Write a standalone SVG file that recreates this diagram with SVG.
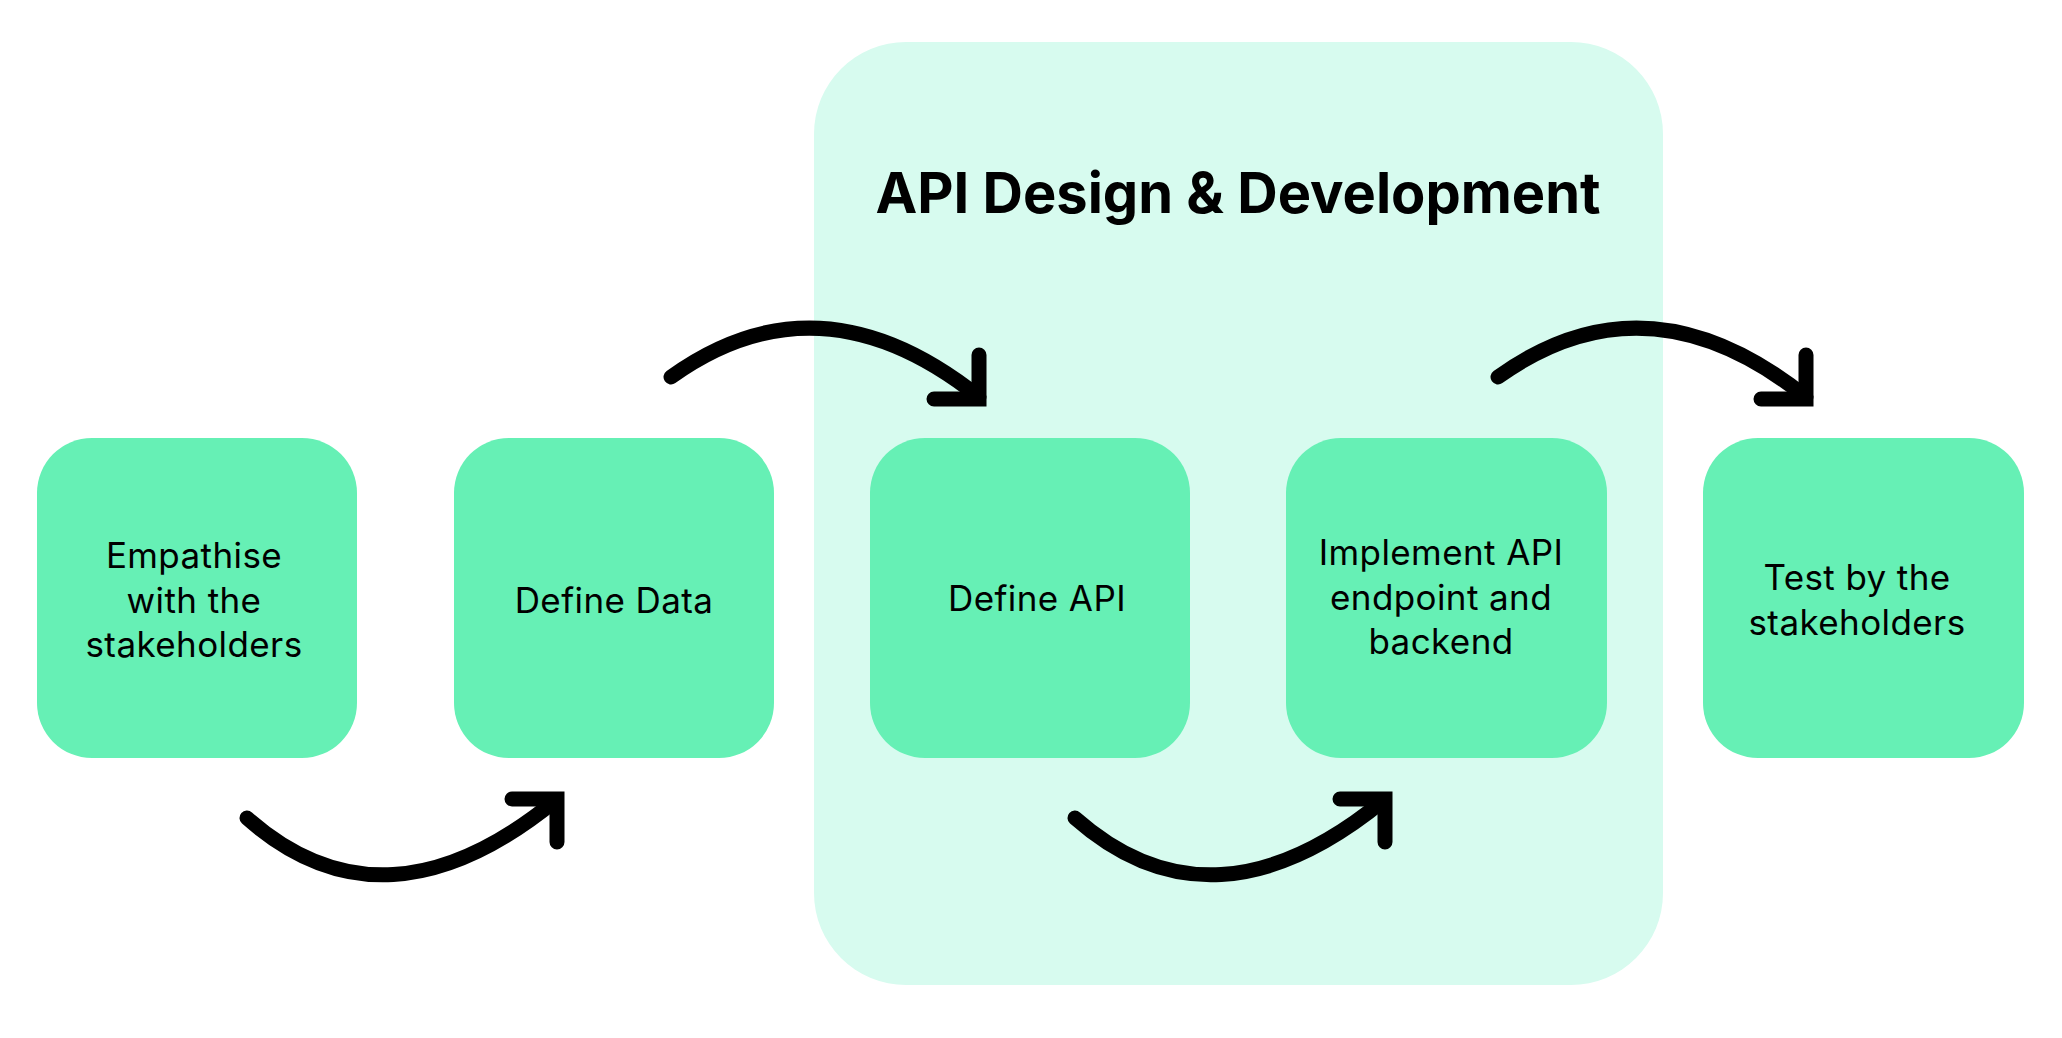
<svg xmlns="http://www.w3.org/2000/svg" width="2062" height="1038" viewBox="0 0 2062 1038">
<style>
.node{fill:#66f0b5}
.lbl{font-family:Inter,"Noto Sans",sans-serif;font-size:35px;letter-spacing:0.4px;fill:#000;text-anchor:middle}
.title{font-family:Inter,"Noto Sans",sans-serif;font-size:56px;font-weight:700;fill:#000;text-anchor:middle}
.arc{fill:none;stroke:#000;stroke-width:15;stroke-linecap:round}
.head{fill:none;stroke:#000;stroke-width:15;stroke-linecap:round;stroke-linejoin:miter}
</style>
<rect width="2062" height="1038" fill="#ffffff"/>
<g id="panel">
<rect x="814" y="42" width="849" height="943" rx="92" ry="92" fill="#d7fbef"/>
<text class="title" x="1238" y="213">API Design &amp; Development</text>
</g>
<g id="n1"><rect class="node" x="37" y="438" width="320" height="320" rx="55"/>
<text class="lbl" x="194" y="568">Empathise</text><text class="lbl" x="194" y="613">with the</text><text class="lbl" x="194" y="657">stakeholders</text></g>
<g id="n2"><rect class="node" x="454" y="438" width="320" height="320" rx="55"/>
<text class="lbl" x="614" y="613">Define Data</text></g>
<g id="n3"><rect class="node" x="870" y="438" width="320" height="320" rx="55"/>
<text class="lbl" x="1037" y="611">Define API</text></g>
<g id="n4"><rect class="node" x="1286" y="438" width="321" height="320" rx="55"/>
<text class="lbl" x="1441" y="565">Implement API</text><text class="lbl" x="1441" y="610">endpoint and</text><text class="lbl" x="1441" y="654">backend</text></g>
<g id="n5"><rect class="node" x="1703" y="438" width="321" height="320" rx="55"/>
<text class="lbl" x="1857" y="590">Test by the</text><text class="lbl" x="1857" y="635">stakeholders</text></g>
<g id="connectors">
<path class="arc" d="M247 818 Q385 940 556 800"/>
<path class="head" d="M512 799 L557 799 L557 842"/>
<path class="arc" d="M671 377 Q820 270 979 397"/>
<path class="head" d="M979 355 L979 399 L934 399"/>
<path class="arc" d="M1075 818 Q1213 940 1384 800"/>
<path class="head" d="M1340 799 L1385 799 L1385 842"/>
<path class="arc" d="M1498 377 Q1647 270 1806 397"/>
<path class="head" d="M1806 355 L1806 399 L1761 399"/>
</g>
</svg>
